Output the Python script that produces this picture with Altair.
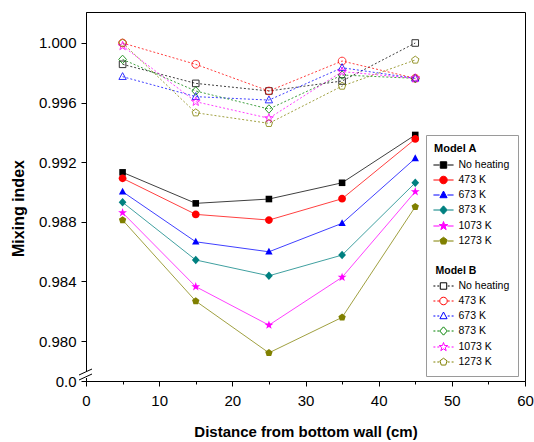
import math
import altair as alt
import pandas as pd

FONT = "Liberation Sans, Arial, sans-serif"

# Sampling positions along the channel (cm from the bottom wall)
distance = [5, 15, 25, 35, 45]
cases = ["No heating", "473 K", "673 K", "873 K", "1073 K", "1273 K"]

# Model A mixing index
a_no_heating = [0.99132, 0.98924, 0.98953, 0.99062, 0.99383]
a_473 = [0.99092, 0.98850, 0.98812, 0.98955, 0.99356]
a_673 = [0.99002, 0.98666, 0.98599, 0.98790, 0.99226]
a_873 = [0.98931, 0.98544, 0.98438, 0.98577, 0.99062]
a_1073 = [0.98861, 0.98365, 0.98107, 0.98428, 0.99002]
a_1273 = [0.98812, 0.98268, 0.97921, 0.98159, 0.98901]

# Model B mixing index
b_no_heating = [0.99857, 0.99729, 0.99678, 0.99745, 1.00000]
b_473 = [1.00000, 0.99857, 0.99678, 0.99879, 0.99763]
b_673 = [0.99774, 0.99640, 0.99617, 0.99834, 0.99763]
b_873 = [0.99890, 0.99678, 0.99557, 0.99785, 0.99763]
b_1073 = [0.99980, 0.99606, 0.99495, 0.99808, 0.99763]
b_1273 = [1.00000, 0.99532, 0.99461, 0.99711, 0.99886]

colors_a = ["#000000", "#ff0000", "#0000ff", "#008080", "#ff00ff", "#808000"]
colors_b = ["#000000", "#ff0000", "#0000ff", "#008000", "#ff00ff", "#808000"]

y_ticks = [0.97732, 0.980, 0.984, 0.988, 0.992, 0.996, 1.000]

series_a = [a_no_heating, a_473, a_673, a_873, a_1073, a_1273]
series_b = [b_no_heating, b_473, b_673, b_873, b_1073, b_1273]

rows = []
for model, series in (("A", series_a), ("B", series_b)):
    for case, vals in zip(cases, series):
        for d, v in zip(distance, vals):
            rows.append({"model": model, "case": case, "distance": d, "value": v})
df = pd.DataFrame(rows)


# ---- marker shapes (SVG paths in the [-1, 1] symbol box) ----
def polygon(pts, s=1.0):
    return "M" + "L".join(f"{x * s:.3f},{y * s:.3f}" for x, y in pts) + "Z"


def circle(r):
    return (f"M{r:.3f},0A{r:.3f},{r:.3f} 0 1,1 {-r:.3f},0"
            f"A{r:.3f},{r:.3f} 0 1,1 {r:.3f},0Z")


def regular(n, r, start=-90.0):
    return [(r * math.cos(math.radians(start + k * 360.0 / n)),
             r * math.sin(math.radians(start + k * 360.0 / n))) for k in range(n)]


def star_pts(ro, ri):
    pts = []
    for k in range(10):
        r = ro if k % 2 == 0 else ri
        a = math.radians(-90 + k * 36)
        pts.append((r * math.cos(a), r * math.sin(a)))
    return pts


def markers(s):
    return [
        polygon([(-0.85, -0.85), (0.85, -0.85), (0.85, 0.85), (-0.85, 0.85)], s),
        circle(1.0 * s),
        polygon([(0, -1.05), (0.95, 0.72), (-0.95, 0.72)], s),
        polygon([(0, -1.1), (1.0, 0), (0, 1.1), (-1.0, 0)], s),
        polygon(star_pts(1.2, 0.48), s),
        polygon(regular(5, 1.0), s),
    ]


point_shapes = markers(1.0)
stub_solid = "M-1.55,0H-0.6M0.6,0H1.55"
stub_dash = "M-1.55,0H-1.25M-0.95,0H-0.65M0.65,0H0.95M1.25,0H1.55"
legend_shapes_a = [stub_solid + m for m in markers(0.58)]
legend_shapes_b = [stub_dash + m for m in markers(0.58)]

# one legend: Model A entries, a spacer, the Model B heading, Model B entries
legend_domain = cases + [" ", "Model B"] + [c + " " for c in cases]
legend_stroke = colors_a + ["transparent", "transparent"] + colors_b
legend_fill = colors_a + ["transparent", "transparent"] + ["white"] * 6
legend_shape = legend_shapes_a + ["M0,0", "M0,0"] + legend_shapes_b

# ---- axes ----
x_axis = alt.Axis(
    title="Distance from bottom wall (cm)",
    values=list(range(0, 61, 5)),
    labelExpr="datum.value % 10 === 0 ? datum.label : ''",
    tickSize={"condition": {"test": "datum.value % 10 === 0", "value": 5}, "value": 3},
    labelFont=FONT, labelFontSize=15, labelColor="black", labelPadding=7,
    labelFlush=False, labelOverlap=False,
    titleFont=FONT, titleFontSize=15, titleFontWeight="bold", titleColor="black",
    titleY=55, titleBaseline="alphabetic",
    domainColor="black", tickColor="black", tickWidth=1, domainWidth=1,
    grid=False,
)
y_axis = alt.Axis(
    title="Mixing index",
    values=y_ticks,
    labelExpr="datum.value < 0.979 ? '0.0' : format(datum.value, '.3f')",
    tickSize=5,
    labelFont=FONT, labelFontSize=15, labelColor="black", labelPadding=5,
    labelFlush=False, labelOverlap=False,
    titleFont=FONT, titleFontSize=16, titleFontWeight="bold", titleColor="black",
    titleX=-63, titleY=196, titleAngle=270, titleAlign="center",
    titleBaseline="alphabetic",
    domainColor="black", tickColor="black", tickWidth=1, domainWidth=1,
    grid=False, zindex=0,
)

x_enc = alt.X("distance:Q", scale=alt.Scale(domain=[0, 60], nice=False), axis=x_axis)
y_enc = alt.Y("value:Q", scale=alt.Scale(domain=[0.97732, 1.00208], nice=False, zero=False),
              axis=y_axis)

base = alt.Chart(df)

lines_b = base.transform_filter(alt.datum.model == "B").mark_line(
    strokeWidth=1, strokeDash=[2, 2], opacity=0.75
).encode(
    x=x_enc, y=y_enc,
    color=alt.Color("case:N", scale=alt.Scale(domain=cases, range=colors_b), legend=None),
    detail="case:N",
)
points_b = base.transform_filter(alt.datum.model == "B").mark_point(
    filled=False, size=60, strokeWidth=1, opacity=0.8
).encode(
    x=x_enc, y=y_enc,
    color=alt.Color("case:N", scale=alt.Scale(domain=cases, range=colors_b), legend=None),
    shape=alt.Shape("case:N", scale=alt.Scale(domain=cases, range=point_shapes), legend=None),
)
lines_a = base.transform_filter(alt.datum.model == "A").mark_line(
    strokeWidth=1, opacity=0.75
).encode(
    x=x_enc, y=y_enc,
    color=alt.Color("case:N", scale=alt.Scale(domain=cases, range=colors_a), legend=None),
    detail="case:N",
)
points_a = base.transform_filter(alt.datum.model == "A").mark_point(
    filled=True, size=60, opacity=1
).encode(
    x=x_enc, y=y_enc,
    color=alt.Color("case:N", scale=alt.Scale(domain=cases, range=colors_a), legend=None),
    shape=alt.Shape("case:N", scale=alt.Scale(domain=cases, range=point_shapes), legend=None),
)

# axis break marks near the bottom of the y axis
brk = alt.Chart(pd.DataFrame({"k": [0]}))
gap = brk.mark_rule(color="white", strokeWidth=3).encode(
    x=alt.value(0), y=alt.value(359), y2=alt.value(366))
slash1 = brk.mark_rule(color="black", strokeWidth=1).encode(
    x=alt.value(-7), x2=alt.value(6), y=alt.value(363), y2=alt.value(357))
slash2 = brk.mark_rule(color="black", strokeWidth=1).encode(
    x=alt.value(-7), x2=alt.value(6), y=alt.value(368), y2=alt.value(362))

legend = alt.Legend(
    title="Model A", orient="none", legendX=340, legendY=123, direction="vertical",
    titleFont=FONT, titleFontSize=11, titleFontWeight="bold", titleColor="black",
    titlePadding=4,
    labelFont=FONT, labelFontSize=10.5, labelColor="black",
    labelFontWeight=alt.ExprRef(expr="datum.label == 'Model B' ? 'bold' : 'normal'"),
    labelOffset=alt.ExprRef(expr="datum.label == 'Model B' ? -15 : 8"),
    symbolSize=169, symbolStrokeWidth=1, symbolOffset=2.5,
    rowPadding=2, padding=8, strokeColor="#9a9a9a", fillColor="white",
)
legend_layer = alt.Chart(df).transform_filter("false").mark_point(opacity=1).encode(
    stroke=alt.Stroke("entry:N", scale=alt.Scale(domain=legend_domain, range=legend_stroke),
                      legend=legend),
    fill=alt.Fill("entry:N", scale=alt.Scale(domain=legend_domain, range=legend_fill),
                  legend=legend),
    shape=alt.Shape("entry:N", scale=alt.Scale(domain=legend_domain, range=legend_shape),
                    legend=legend),
)

chart = alt.layer(
    lines_b, points_b, lines_a, points_a, gap, slash1, slash2, legend_layer
).resolve_scale(
    color="independent", shape="independent", stroke="independent", fill="independent"
).properties(
    width=439, height=369,
    padding={"left": 86, "top": 12, "right": 9, "bottom": 61},
    autosize=alt.AutoSizeParams(type="none"),
    background="white",
).configure_view(
    stroke="black", strokeWidth=1
)

chart.save("out.html", embed_options={"renderer": "svg", "actions": False})
